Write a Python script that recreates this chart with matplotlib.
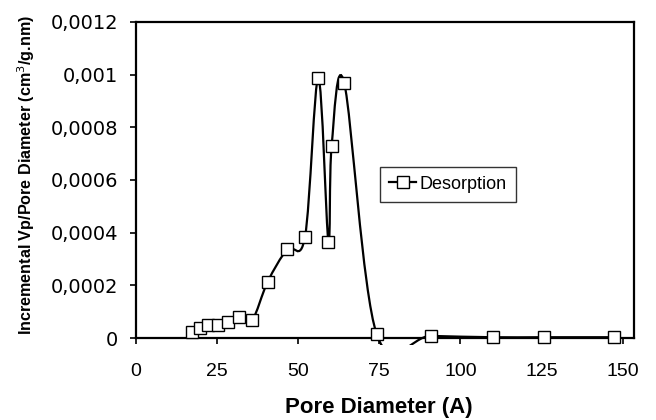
import numpy as np
import matplotlib
matplotlib.use('Agg')
import matplotlib.pyplot as plt
from matplotlib.path import Path
from matplotlib.patches import PathPatch, Rectangle
from matplotlib.lines import Line2D

plt.rcParams['font.family'] = ['Liberation Sans', 'DejaVu Sans']

# desorption branch
pore_diam = [17.2, 19.7, 22.3, 25.4, 28.3, 31.8, 35.8, 40.6, 46.6, 52.1,
             56.2, 59.3, 60.3, 64.2, 74.2, 90.9, 109.9, 125.8, 147.4]
inc_vol = [0.000024, 0.000039, 0.000049, 0.000049, 0.000060, 0.000081,
           0.000068, 0.000214, 0.000337, 0.000385, 0.000987, 0.000366,
           0.000730, 0.000967, 0.000014, 0.000008, 0.000003, 0.000003,
           0.000003]

x_ticks = [0, 25, 50, 75, 100, 125, 150]
y_ticks = [0, 0.0002, 0.0004, 0.0006, 0.0008, 0.001, 0.0012]
y_tick_labels = ['0', '0,0002', '0,0004', '0,0006', '0,0008', '0,001', '0,0012']


def smooth_path(xs, ys):
    """Excel style smoothed line: cubic Bezier through points, tension 1/6."""
    pts = np.column_stack([xs, ys])
    n = len(pts)
    verts = [pts[0]]
    codes = [Path.MOVETO]
    for i in range(n - 1):
        p0 = pts[max(i - 1, 0)]
        p1 = pts[i]
        p2 = pts[i + 1]
        p3 = pts[min(i + 2, n - 1)]
        c1 = p1 + (p2 - p0) / 6.0
        c2 = p2 - (p3 - p1) / 6.0
        verts += [c1, c2, p2]
        codes += [Path.CURVE4] * 3
    return Path(verts, codes)


fig = plt.figure(figsize=(6.56, 4.2), dpi=100)
ax = fig.add_axes([0.2073, 0.1952, 0.7592, 0.7528])

curve = PathPatch(smooth_path(pore_diam, inc_vol), fill=False,
                  edgecolor='black', lw=1.6, zorder=3)
ax.add_patch(curve)
# excel lets the line spill a few pixels under the axis
clip = Rectangle((0, -0.022), 1, 1.03, transform=ax.transAxes,
                 facecolor='none', edgecolor='none')
curve.set_clip_path(clip)
ax.plot(pore_diam, inc_vol, 's', ls='none', ms=8.5, mfc='white',
        mec='black', mew=1.0, clip_on=False, zorder=4)

ax.set_xlim(0, 153.5)
ax.set_ylim(0, 0.0012)
ax.set_xticks(x_ticks)
ax.set_yticks(y_ticks)
ax.set_yticklabels(y_tick_labels, fontfamily='DejaVu Sans')
ax.tick_params(axis='both', direction='out', length=4.5, width=1.2,
               labelsize=14, colors='black')
ax.tick_params(axis='x', pad=13.5)
ax.tick_params(axis='y', pad=8.5)
for sp in ax.spines.values():
    sp.set_linewidth(1.6)
    sp.set_color('black')

fig.text(379 / 656, 1 - 408 / 420, 'Pore Diameter (A)', fontsize=16,
         fontweight='bold', ha='center', va='center')
fig.text(26 / 656, 1 - 175 / 420, 'Incremental Vp/Pore Diameter (cm$^3$/g.nm)',
         fontsize=11.6, fontweight='bold', rotation=90, ha='center', va='center')

handle = Line2D([], [], color='black', lw=1.6, marker='s', ms=8.5,
                mfc='white', mec='black', mew=1.0)
leg = ax.legend([handle], ['Desorption'], loc='center left',
                bbox_to_anchor=(0.49, 0.487), fontsize=13, frameon=True,
                fancybox=False, edgecolor='black', handlelength=1.5,
                handletextpad=0.2, borderpad=0.5, borderaxespad=0)
leg.get_frame().set_linewidth(1.0)

fig.savefig('out.png', dpi=100)
